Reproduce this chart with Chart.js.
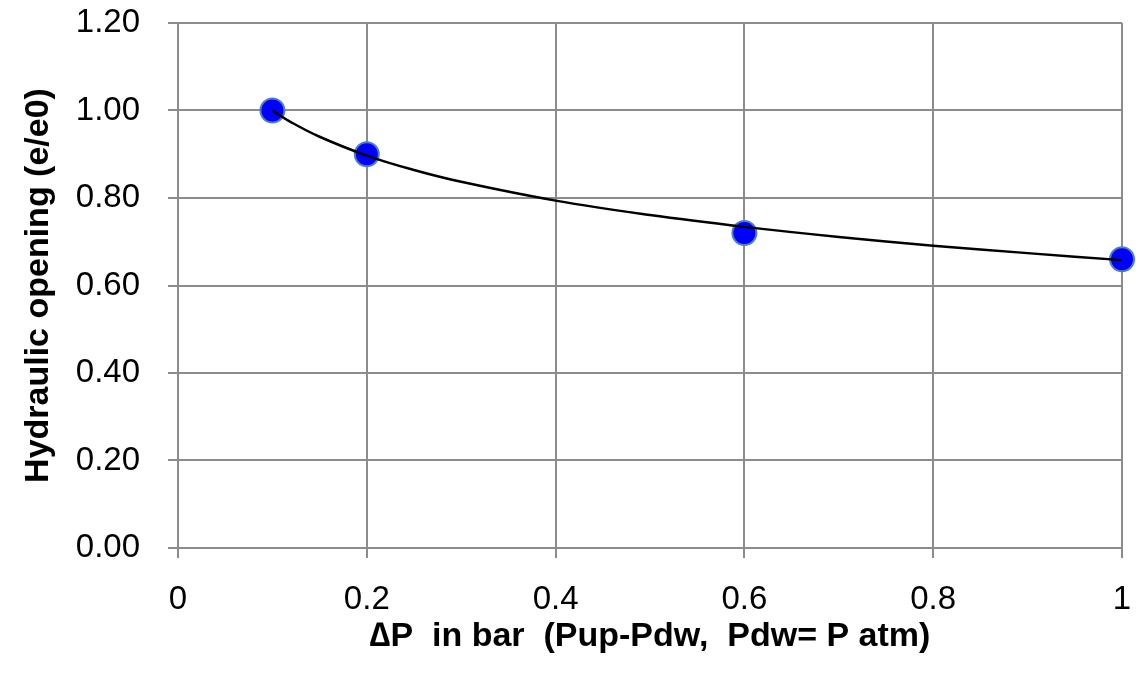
<!DOCTYPE html>
<html>
<head>
<meta charset="utf-8">
<script src="https://cdn.jsdelivr.net/npm/chart.js@4"></script>
<style>
  html, body { margin: 0; padding: 0; background: #fff; }
  #wrap { width: 1136px; height: 674px; }
</style>
</head>
<body>
<div id="wrap"><canvas id="chart" width="1136" height="674"></canvas></div>
<script>
// measured points
const pressure = [0.1, 0.2, 0.6, 1.0];
const opening = [1.00, 0.90, 0.72, 0.66];

// trend line
const trendX = [0.1, 0.12, 0.15, 0.2, 0.25, 0.3, 0.4, 0.5, 0.6, 0.7, 0.8, 0.9, 1.0];
const trendY = [1.00, 0.973, 0.94, 0.897, 0.864, 0.837, 0.794, 0.761, 0.734, 0.711, 0.691, 0.674, 0.658];

const xTicks = [0, 0.2, 0.4, 0.6, 0.8, 1];
const yTicks = [0, 0.2, 0.4, 0.6, 0.8, 1.0, 1.2];

const gridColor = '#8c8c8c';
const fontFamily = '"Liberation Sans", Arial, sans-serif';

const ctx = document.getElementById('chart').getContext('2d');
new Chart(ctx, {
    type: 'scatter',
    data: {
        datasets: [{
            label: 'Trend',
            type: 'line',
            data: trendX.map((x, i) => ({ x: x, y: trendY[i] })),
            borderColor: '#000000',
            borderWidth: 2.5,
            pointRadius: 0,
            fill: false,
            tension: 0.4,
            order: 0
        }, {
            label: 'Measured',
            data: pressure.map((x, i) => ({ x: x, y: opening[i] })),
            backgroundColor: '#0000ff',
            borderColor: '#4f81bd',
            borderWidth: 2,
            pointRadius: 12,
            order: 1
        }]
    },
    options: {
        responsive: false,
        animation: false,
        clip: false,
        layout: { padding: { top: 23, right: 6, left: 0, bottom: 0 } },
        plugins: {
            legend: { display: false },
            tooltip: { enabled: false }
        },
        scales: {
            x: {
                type: 'linear',
                min: 0,
                max: 1,
                afterBuildTicks: (scale) => { scale.ticks = xTicks.map(v => ({ value: v })); },
                afterFit: (scale) => {
                    scale.height = 126;
                    scale.paddingLeft = 0;
                    scale.paddingRight = 0;
                },
                ticks: {
                    color: '#000',
                    font: { family: fontFamily, size: 33 },
                    padding: 22,
                    maxRotation: 0,
                    callback: (v) => String(v)
                },
                grid: { color: gridColor, lineWidth: 2, tickLength: 10 },
                border: { color: gridColor, width: 2 },
                title: {
                    display: true,
                    text: '\u2206P  in bar  (Pup-Pdw,  Pdw= P atm)',
                    color: '#000',
                    font: { family: fontFamily, size: 34, weight: 'bold' },
                    padding: 17
                }
            },
            y: {
                type: 'linear',
                min: 0,
                max: 1.2,
                afterBuildTicks: (scale) => { scale.ticks = yTicks.map(v => ({ value: v })); },
                afterFit: (scale) => {
                    scale.width = 178;
                    scale.paddingTop = 0;
                    scale.paddingBottom = 0;
                },
                ticks: {
                    color: '#000',
                    font: { family: fontFamily, size: 33 },
                    padding: 28,
                    callback: (v) => v.toFixed(2)
                },
                grid: { color: gridColor, lineWidth: 2, tickLength: 10 },
                border: { color: gridColor, width: 2 },
                title: {
                    display: true,
                    text: 'Hydraulic opening (e/e0)',
                    color: '#000',
                    font: { family: fontFamily, size: 34, weight: 'bold' },
                    padding: 18
                }
            }
        }
    }
});
</script>
</body>
</html>
